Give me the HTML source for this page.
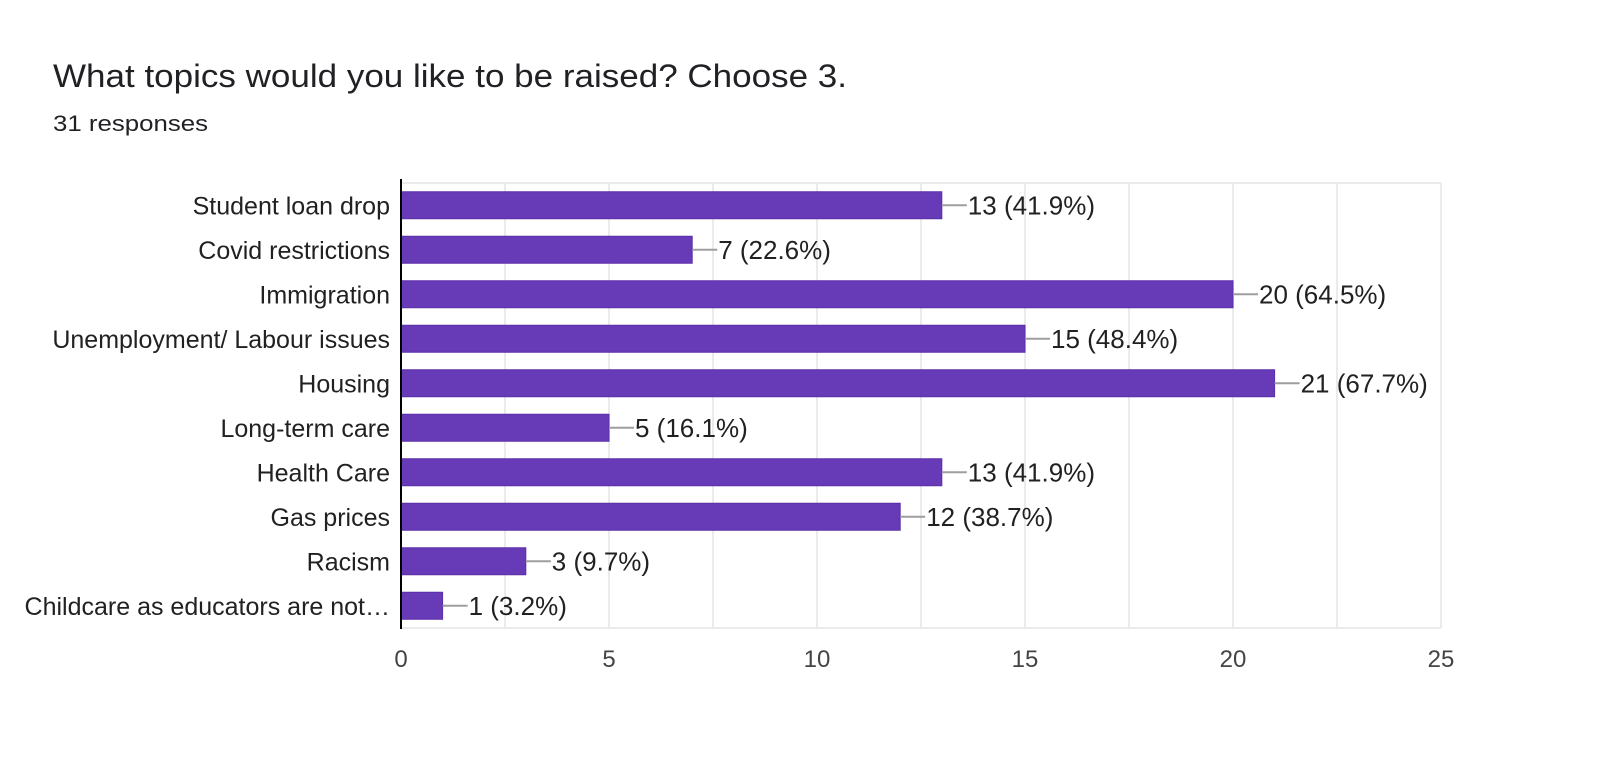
<!DOCTYPE html>
<html><head><meta charset="utf-8"><style>
html,body{margin:0;padding:0;background:#fff;width:1600px;height:761px;overflow:hidden}
svg{display:block;font-family:"Liberation Sans",Arial,sans-serif}
</style></head><body>
<svg id="chart" width="1600" height="761">
<text x="53" y="87" font-size="32" fill="#202124" textLength="794" lengthAdjust="spacingAndGlyphs">What topics would you like to be raised? Choose 3.</text>
<text x="53" y="131" font-size="22" fill="#202124" textLength="155" lengthAdjust="spacingAndGlyphs">31 responses</text>
<g id="grid"></g><g id="bars"></g><g id="labels"></g><g id="ticks"></g>
</svg>
<script>
const categories = ["Student loan drop","Covid restrictions","Immigration","Unemployment/ Labour issues","Housing","Long-term care","Health Care","Gas prices","Racism","Childcare as educators are not…"];
const counts = [13,7,20,15,21,5,13,12,3,1];
const percents = ["41.9%","22.6%","64.5%","48.4%","67.7%","16.1%","41.9%","38.7%","9.7%","3.2%"];
const tickValues = [0,5,10,15,20,25];
const gridValues = [2.5,5,7.5,10,12.5,15,17.5,20,22.5,25];

const NS="http://www.w3.org/2000/svg";
const x0=401, xMax=25, x25=1441, yTop=183, yBottom=628;
const xs=v=>x0+(x25-x0)*v/xMax;
const band=(yBottom-yTop)/categories.length;
const yc=i=>yTop+band*(i+0.5);
function mk(tag,attrs,parent){const e=document.createElementNS(NS,tag);for(const k in attrs)e.setAttribute(k,attrs[k]);parent.appendChild(e);return e;}
const grid=document.getElementById('grid'),bars=document.getElementById('bars'),labels=document.getElementById('labels'),ticks=document.getElementById('ticks');

gridValues.forEach(v=>{
  const l=mk('line',{x1:xs(v),x2:xs(v),y1:yTop,y2:yBottom,stroke:'#ebebeb','stroke-width':2},grid);
  
  
});
[yTop,yBottom].forEach(y=>{
  const l=mk('line',{x1:x0,x2:xs(xMax),y1:y,y2:y,stroke:'#ebebeb','stroke-width':2},grid);
  
  
});

categories.forEach((c,i)=>{
  const y=yc(i), h=27, w=xs(counts[i])-x0;
  const r=mk('rect',{x:x0,y:y-h/2,width:w,height:h,fill:'#673ab7',stroke:'#5b2fa8','stroke-width':1},bars);
  
  
  const ln=mk('line',{x1:xs(counts[i]),x2:xs(counts[i])+25,y1:y,y2:y,stroke:'#9e9e9e','stroke-width':2},labels);
  
  
  const t=mk('text',{x:xs(counts[i])+26,y:y+9,'font-size':26,fill:'#212121'},labels);
  t.textContent=counts[i]+' ('+percents[i]+')';
  
  
  const cl=mk('text',{x:390,y:y+9,'font-size':25,fill:'#212121','text-anchor':'end'},labels);
  cl.textContent=c;
  
  
});

const ax=mk('line',{x1:x0,x2:x0,y1:yTop-4,y2:yBottom+1,stroke:'#000','stroke-width':2},ticks);



tickValues.forEach(v=>{
  const t=mk('text',{x:xs(v),y:667,'font-size':24,fill:'#444','text-anchor':'middle'},ticks);
  t.textContent=v;
  
  
});
</script>
</body></html>
